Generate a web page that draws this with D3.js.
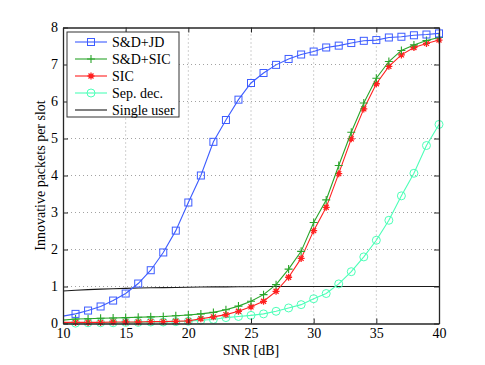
<!DOCTYPE html>
<html>
<head>
<meta charset="utf-8">
<script src="https://cdn.jsdelivr.net/npm/d3@7"></script>
<style>
  html, body { margin: 0; padding: 0; background: #fff; }
  svg { display: block; font-family: "Liberation Serif", "DejaVu Serif", serif; }
</style>
</head>
<body>
<svg id="chart" width="485" height="365"></svg>
<script>
// Data (SNR 10..40 dB, step 1)
const snr = d3.range(10, 41);

const sdJD = [0.20, 0.26, 0.35, 0.46, 0.62, 0.81, 1.08, 1.44, 1.92, 2.51, 3.27,
  4.00, 4.91, 5.50, 6.05, 6.50, 6.77, 6.99, 7.15, 7.27, 7.35,
  7.46, 7.51, 7.58, 7.64, 7.66, 7.73, 7.75, 7.79, 7.81, 7.84];

const sdSIC = [0.09, 0.12, 0.13, 0.14, 0.15, 0.16, 0.17, 0.18, 0.19, 0.21, 0.23,
  0.26, 0.30, 0.37, 0.47, 0.60, 0.78, 1.05, 1.47, 1.95, 2.73,
  3.34, 4.27, 5.17, 5.96, 6.63, 7.08, 7.38, 7.53, 7.65, 7.73];

const sic = [0.03, 0.03, 0.03, 0.03, 0.04, 0.04, 0.04, 0.05, 0.05, 0.06, 0.07,
  0.13, 0.18, 0.24, 0.33, 0.45, 0.60, 0.87, 1.25, 1.76, 2.51,
  3.14, 4.05, 4.99, 5.80, 6.48, 6.95, 7.26, 7.46, 7.57, 7.66];

const sepDec = [0.01, 0.01, 0.02, 0.02, 0.02, 0.03, 0.03, 0.04, 0.04, 0.05, 0.06,
  0.09, 0.11, 0.16, 0.19, 0.22, 0.26, 0.33, 0.42, 0.51, 0.67,
  0.81, 1.07, 1.40, 1.80, 2.25, 2.79, 3.45, 4.06, 4.81, 5.38];

const singleUser = [0.88, 0.90, 0.915, 0.93, 0.94, 0.95, 0.96, 0.965, 0.97, 0.975, 0.98,
  0.985, 0.99, 0.99, 0.995, 0.995, 1.0, 1.0, 1.0, 1.0, 1.0,
  1.0, 1.0, 1.0, 1.0, 1.0, 1.0, 1.0, 1.0, 1.0, 1.0];

const xTicks = [10, 15, 20, 25, 30, 35, 40];
const yTicks = [0, 1, 2, 3, 4, 5, 6, 7, 8];

const series = [
  { name: "S&D+JD",      values: sdJD,       color: "#3d5cff", marker: "square" },
  { name: "S&D+SIC",     values: sdSIC,      color: "#2aa52a", marker: "plus" },
  { name: "SIC",         values: sic,        color: "#ff2020", marker: "star" },
  { name: "Sep. dec.",   values: sepDec,     color: "#4dffb8", marker: "circle" },
  { name: "Single user", values: singleUser, color: "#1a1a1a", marker: null }
];

const margin = { top: 27.5, right: 46, bottom: 41.5, left: 63 };
const width = 485, height = 365;
const svg = d3.select("#chart");

const x = d3.scaleLinear().domain([10, 40]).range([margin.left, width - margin.right]);
const y = d3.scaleLinear().domain([0, 8]).range([height - margin.bottom, margin.top]);

// Grid (dotted)
const grid = svg.append("g").attr("class", "grid")
  .attr("stroke", "#8a8a8a").attr("stroke-width", 0.8).attr("stroke-dasharray", "1,3");
grid.selectAll(".gx").data(xTicks.slice(1, -1)).join("line")
  .attr("x1", d => x(d)).attr("x2", d => x(d))
  .attr("y1", y(0)).attr("y2", y(8));
grid.selectAll(".gy").data(yTicks.slice(1, -1)).join("line")
  .attr("x1", x(10)).attr("x2", x(40))
  .attr("y1", d => y(d)).attr("y2", d => y(d));

// Markers
function drawMarker(sel, type, color) {
  if (type === "square") {
    sel.append("rect").attr("x", -3.5).attr("y", -3.5).attr("width", 7).attr("height", 7)
      .attr("fill", "none").attr("stroke", color).attr("stroke-width", 1);
  } else if (type === "circle") {
    sel.append("circle").attr("r", 4).attr("fill", "none").attr("stroke", color).attr("stroke-width", 1);
  } else if (type === "plus") {
    sel.append("path").attr("d", "M-4,0H4M0,-4V4").attr("stroke", color).attr("stroke-width", 1.1);
  } else if (type === "star") {
    sel.append("path")
      .attr("d", "M-3.5,0H3.5M0,-3.5V3.5M-2.5,-2.5L2.5,2.5M-2.5,2.5L2.5,-2.5")
      .attr("stroke", color).attr("stroke-width", 1.3);
    sel.append("circle").attr("r", 1.8).attr("fill", color);
  }
}

const line = d3.line().x((d, i) => x(snr[i])).y(d => y(d));

const plot = svg.append("g");
series.slice().reverse().forEach(s => {
  plot.append("path").datum(s.values)
    .attr("fill", "none").attr("stroke", s.color).attr("stroke-width", 1.1)
    .attr("d", line);
  if (s.marker) {
    plot.selectAll(null).data(s.values.slice(1)).join("g")
      .attr("transform", (d, i) => `translate(${x(snr[i + 1])},${y(d)})`)
      .each(function() { drawMarker(d3.select(this), s.marker, s.color); });
  }
});

// Axes with inward ticks on all sides
const axisColor = "#262626";
const fmt = d3.format("d");
const axBottom = svg.append("g").attr("transform", `translate(0,${y(0)})`)
  .call(d3.axisBottom(x).tickValues(xTicks).tickFormat(fmt).tickSizeInner(-5).tickSizeOuter(0).tickPadding(5));
const axTop = svg.append("g").attr("transform", `translate(0,${y(8)})`)
  .call(d3.axisTop(x).tickValues(xTicks).tickFormat("").tickSizeInner(-5).tickSizeOuter(0));
const axLeft = svg.append("g").attr("transform", `translate(${x(10)},0)`)
  .call(d3.axisLeft(y).tickValues(yTicks).tickFormat(fmt).tickSizeInner(-5).tickSizeOuter(0).tickPadding(5));
const axRight = svg.append("g").attr("transform", `translate(${x(40)},0)`)
  .call(d3.axisRight(y).tickValues(yTicks).tickFormat("").tickSizeInner(-5).tickSizeOuter(0));

[axBottom, axTop, axLeft, axRight].forEach(a => {
  a.select(".domain").attr("stroke", axisColor).attr("stroke-width", 1.3);
  a.selectAll(".tick line").attr("stroke", axisColor).attr("stroke-width", 1);
  a.selectAll(".tick text").attr("fill", "#000").attr("font-size", 14)
    .attr("font-family", "Liberation Serif, DejaVu Serif, serif");
});

// Axis labels
svg.append("text")
  .attr("x", x(25)).attr("y", 355)
  .attr("text-anchor", "middle").attr("font-size", 14).text("SNR [dB]");
svg.append("text")
  .attr("transform", `translate(45,${y(4)}) rotate(-90)`)
  .attr("text-anchor", "middle").attr("font-size", 14).text("Innovative packets per slot");

// Legend
const lg = svg.append("g").attr("transform", "translate(67,32)");
lg.append("rect").attr("width", 112).attr("height", 85)
  .attr("fill", "#fff").attr("stroke", "#333").attr("stroke-width", 1);
series.forEach((s, i) => {
  const row = lg.append("g").attr("transform", `translate(0,${10 + i * 17})`);
  row.append("line").attr("x1", 8).attr("x2", 40).attr("stroke", s.color).attr("stroke-width", 1.1);
  if (s.marker) {
    const m = row.append("g").attr("transform", "translate(24,0)");
    drawMarker(m, s.marker, s.color);
  }
  row.append("text").attr("x", 45).attr("y", 5).attr("font-size", 14).text(s.name);
});
</script>
</body>
</html>
